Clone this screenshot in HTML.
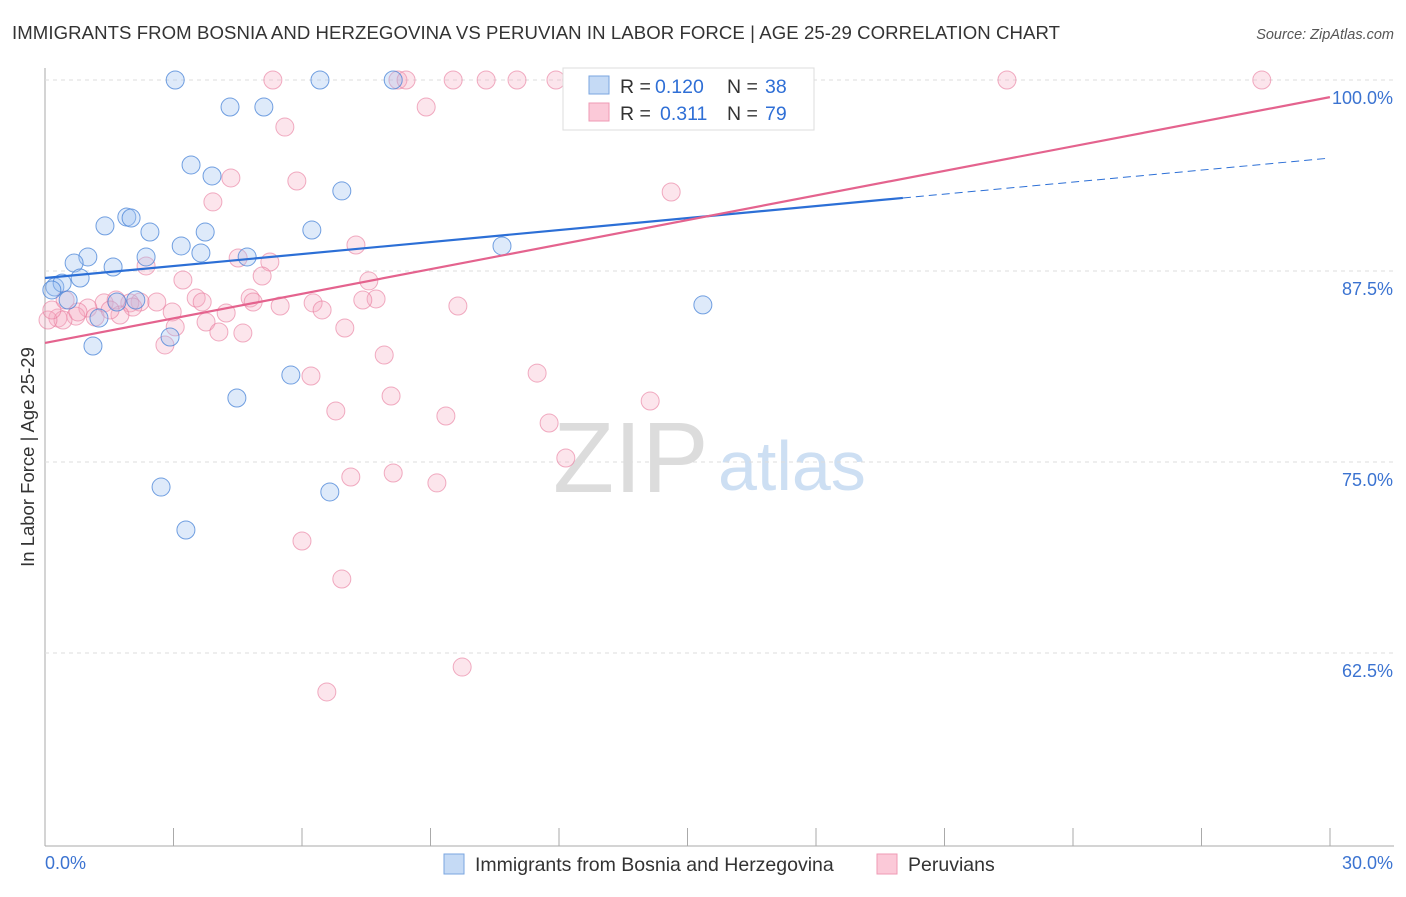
<!DOCTYPE html>
<html><head><meta charset="utf-8"><style>
body{margin:0;background:#fff;font-family:"Liberation Sans",sans-serif;}
svg text{font-family:"Liberation Sans",sans-serif;}
</style></head><body>
<svg id="c" width="1406" height="892">
<text x="12" y="39" font-size="18.6" fill="#333" textLength="1048">IMMIGRANTS FROM BOSNIA AND HERZEGOVINA VS PERUVIAN IN LABOR FORCE | AGE 25-29 CORRELATION CHART</text>
<text x="1394" y="39" font-size="14.5" fill="#555" font-style="italic" text-anchor="end">Source: ZipAtlas.com</text>
<text x="553" y="492" font-size="100" fill="#dcdcdc" font-family="Liberation Serif">ZIP</text>
<text x="718" y="490" font-size="70" fill="#cddff3">atlas</text>
<text transform="translate(34,457) rotate(-90)" font-size="18.5" fill="#333" text-anchor="middle">In Labor Force | Age 25-29</text>
<g id="grid"></g><g id="pts"></g><g id="lines"></g>
<g>
<rect x="563" y="68" width="251" height="62" fill="#fff" stroke="#ddd"/>
<rect x="589" y="76" width="20" height="18" fill="#c5daf5" stroke="#7aa6e0"/>
<rect x="589" y="103" width="20" height="18" fill="#fbc9d8" stroke="#ef9ab4"/>
<text x="620" y="93" font-size="19.5" fill="#333">R =</text>
<text x="655" y="93" font-size="19.5" fill="#2f6fd6">0.120</text>
<text x="727" y="93" font-size="19.5" fill="#333">N =</text>
<text x="765" y="93" font-size="19.5" fill="#2f6fd6">38</text>
<text x="620" y="120" font-size="19.5" fill="#333">R =</text>
<text x="660" y="120" font-size="19.5" fill="#2f6fd6">0.311</text>
<text x="727" y="120" font-size="19.5" fill="#333">N =</text>
<text x="765" y="120" font-size="19.5" fill="#2f6fd6">79</text>
</g>
<g>
<rect x="444" y="854" width="20" height="20" fill="#c5daf5" stroke="#7aa6e0"/>
<text x="475" y="871" font-size="19.5" fill="#333">Immigrants from Bosnia and Herzegovina</text>
<rect x="877" y="854" width="20" height="20" fill="#fbc9d8" stroke="#ef9ab4"/>
<text x="908" y="871" font-size="19.5" fill="#333">Peruvians</text>
</g>
</svg>
<script>
const xTicksLabels=["0.0%","30.0%"];
const yTicks=[100,87.5,75,62.5];
const yTickLabels=["100.0%","87.5%","75.0%","62.5%"];
const blueX=[3.04,6.42,8.13,4.32,5.11,3.41,3.90,6.93,1.91,2.01,1.40,2.45,3.74,6.23,3.18,3.64,2.36,4.72,1.00,0.68,10.67,1.59,0.82,0.23,0.40,0.54,1.68,2.12,1.26,2.92,1.12,15.36,5.74,4.48,2.71,6.65,3.29,0.16];
const blueY=[100,100,100,98.23,98.23,94.44,93.72,92.74,91.03,90.97,90.45,90.05,90.05,90.18,89.14,88.68,88.42,88.42,88.42,88.02,89.14,87.76,87.04,86.45,86.71,85.60,85.47,85.60,84.42,83.18,82.59,85.28,80.69,79.19,73.36,73.04,70.55,86.26];
const pinkX=[5.32,8.24,8.43,9.53,10.30,11.02,11.93,12.30,14.03,16.81,22.46,28.41,8.90,5.60,4.34,5.88,3.92,14.62,7.26,4.51,5.25,2.36,3.22,7.56,5.07,7.73,7.42,4.79,3.53,3.67,2.22,1.98,1.38,1.66,6.26,6.47,9.64,5.49,4.86,2.61,2.05,4.23,2.97,1.00,0.72,0.30,0.42,0.77,3.76,3.04,7.00,4.06,4.62,2.80,7.92,11.49,6.21,14.13,8.08,6.79,9.36,11.77,12.16,8.13,7.14,9.15,6.00,6.93,9.74,6.58,0.07,0.16,1.17,1.75,1.52,0.47];
const pinkY=[100,100,100,100,100,100,100,100,100,100,100,100,98.23,96.92,93.59,93.39,92.02,92.67,89.20,88.35,88.09,87.83,86.91,86.85,87.17,85.67,85.60,85.73,85.73,85.47,85.47,85.41,85.41,85.60,85.41,84.95,85.21,85.21,85.47,85.47,85.14,84.75,84.82,85.08,84.55,84.42,84.29,84.82,84.16,83.84,83.77,83.51,83.44,82.66,82.00,80.82,80.63,78.99,79.32,78.34,78.01,77.55,75.26,74.28,74.02,73.63,69.83,67.34,61.58,59.95,84.29,84.95,84.49,84.62,84.95,85.60];
const blueTrend=[87.04,0.2616];
const pinkTrend=[82.79,0.5363];
const blueSolidEnd=20.03;
const X=v=>45+v*42.83, Y=v=>80+(100-v)*15.28;
const NS="http://www.w3.org/2000/svg";
function mk(t,a,p){const e=document.createElementNS(NS,t);for(const k in a)e.setAttribute(k,a[k]);p.appendChild(e);return e;}
const svg=document.getElementById('c'),grid=document.getElementById('grid'),pts=document.getElementById('pts'),lines=document.getElementById('lines');
let ax=mk('line',{x1:45,y1:68,x2:45,y2:846,stroke:'#aaa'},grid);


let bx=mk('line',{x1:45,y1:846,x2:1394,y2:846,stroke:'#aaa'},grid);


for(let i=0;i<=10;i++){const xx=45+i*128.5;mk('line',{x1:xx,y1:828,x2:xx,y2:846,stroke:'#aaa'},grid);}
yTicks.forEach((v,i)=>{
 const g=mk('line',{x1:45,y1:Y(v),x2:1394,y2:Y(v),stroke:'#ddd','stroke-dasharray':'4,4'},grid);
 
 
 const t=mk('text',{x:1393,y:Y(v)+24,'font-size':18,fill:'#3b73d1','text-anchor':'end'},grid);
 t.textContent=yTickLabels[i];
 
 
});
let t0=mk('text',{x:45,y:869,'font-size':18,fill:'#3b73d1'},grid);t0.textContent=xTicksLabels[0];


let t1=mk('text',{x:1393,y:869,'font-size':18,fill:'#3b73d1','text-anchor':'end'},grid);t1.textContent=xTicksLabels[1];


pinkX.forEach((x,i)=>{const c=mk('circle',{cx:X(x),cy:Y(pinkY[i]),r:9,fill:'rgba(246,168,192,0.3)',stroke:'rgba(232,120,155,0.6)','stroke-width':1},pts);
 
 });
blueX.forEach((x,i)=>{const c=mk('circle',{cx:X(x),cy:Y(blueY[i]),r:9,fill:'rgba(160,196,240,0.35)',stroke:'rgba(70,130,215,0.75)','stroke-width':1},pts);
 
 });
let bl=mk('line',{x1:X(0),y1:Y(blueTrend[0]),x2:X(blueSolidEnd),y2:Y(blueTrend[0]+blueTrend[1]*blueSolidEnd),stroke:'#2c6fd6','stroke-width':2.2},lines);


let bd=mk('line',{x1:X(blueSolidEnd),y1:Y(blueTrend[0]+blueTrend[1]*blueSolidEnd),x2:X(30),y2:Y(blueTrend[0]+blueTrend[1]*30),stroke:'#2c6fd6','stroke-width':1,'stroke-dasharray':'8,5'},lines);


let pl=mk('line',{x1:X(0),y1:Y(pinkTrend[0]),x2:X(30),y2:Y(pinkTrend[0]+pinkTrend[1]*30),stroke:'#e4638e','stroke-width':2.2},lines);


</script>
</body></html>
